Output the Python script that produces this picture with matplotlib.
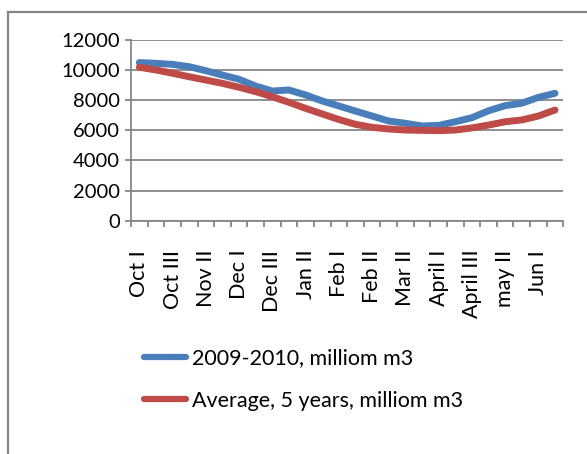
import matplotlib
matplotlib.use("Agg")
import matplotlib.pyplot as plt
from matplotlib.lines import Line2D
import numpy as np

categories = ["Oct I", "Oct II", "Oct III", "Nov I", "Nov II", "Nov III",
              "Dec I", "Dec II", "Dec III", "Jan I", "Jan II", "Jan III",
              "Feb I", "Feb I", "Feb II", "Mar I", "Mar II", "Mar III",
              "April I", "April II", "April III", "may I", "may II", "may III",
              "Jun I", "Jun II"]
series_2009 = [10500, 10450, 10380, 10230, 9960, 9670, 9390, 8940, 8610, 8680,
               8350, 7950, 7620, 7280, 6950, 6620, 6470, 6290, 6330, 6570,
               6840, 7300, 7640, 7800, 8190, 8460]
series_avg = [10190, 10010, 9790, 9560, 9340, 9120, 8860, 8570, 8230, 7860,
              7460, 7090, 6720, 6400, 6200, 6090, 6020, 6000, 5980, 6020,
              6160, 6350, 6570, 6690, 6950, 7350]
yticks = [0, 2000, 4000, 6000, 8000, 10000, 12000]
label_2009 = "2009-2010, milliom m3"
label_avg = "Average, 5 years, milliom m3"

plt.rcParams['font.family'] = ['Lato', 'DejaVu Sans']
W, H = 587, 454
fig = plt.figure(figsize=(W/100, H/100), dpi=100)

# outer chart border (top and left visible)
fig.add_artist(Line2D([8/W, 8/W], [0, 1-12/H], color='#868686', lw=1.6, transform=fig.transFigure))
fig.add_artist(Line2D([8/W, 1], [1-12/H, 1-12/H], color='#868686', lw=1.6, transform=fig.transFigure))

ax = fig.add_axes([131/W, 1-220.7/H, (563.3-131)/W, (220.7-40)/H])
x = np.arange(len(categories))
c_blue = '#4A7EBB'
c_red = '#BE4B48'
ax.plot(x, series_2009, color=c_blue, lw=5, solid_capstyle='round', solid_joinstyle='round', zorder=3)
ax.plot(x, series_avg, color=c_red, lw=5, solid_capstyle='round', solid_joinstyle='round', zorder=3)

ax.set_xlim(-0.5, len(categories)-0.5)
ax.set_ylim(0, 12000)
ax.set_yticks(yticks)
ax.set_yticklabels([str(v) for v in yticks], fontsize=14.5)
ax.yaxis.grid(True, color='#868686', lw=1.3)
ax.set_axisbelow(True)
for s in ['top', 'right']:
    ax.spines[s].set_visible(False)
for s in ['left', 'bottom']:
    ax.spines[s].set_color('#868686')
    ax.spines[s].set_linewidth(1.3)
ax.tick_params(axis='y', length=4, width=1.3, color='#868686', pad=4)

ax.set_xticks(np.arange(len(categories)+1)-0.5, minor=False)
ax.set_xticklabels([])
ax.tick_params(axis='x', which='major', length=4, width=1.3, color='#868686')
ax.set_xticks(x[::2], minor=True)
ax.set_xticklabels(categories[::2], minor=True, rotation=90, fontsize=15.5)
ax.tick_params(axis='x', which='minor', length=0, pad=21)

handles = [Line2D([], [], color=c_blue, lw=4.5, solid_capstyle='round'),
           Line2D([], [], color=c_red, lw=4.5, solid_capstyle='round')]
fig.legend(handles, [label_2009, label_avg], loc='upper left',
           bbox_to_anchor=(125/W, 1-329/H), frameon=False, fontsize=15.5,
           handlelength=1.95, handletextpad=0.25, labelspacing=1.05)

fig.savefig("out.png", dpi=100)
